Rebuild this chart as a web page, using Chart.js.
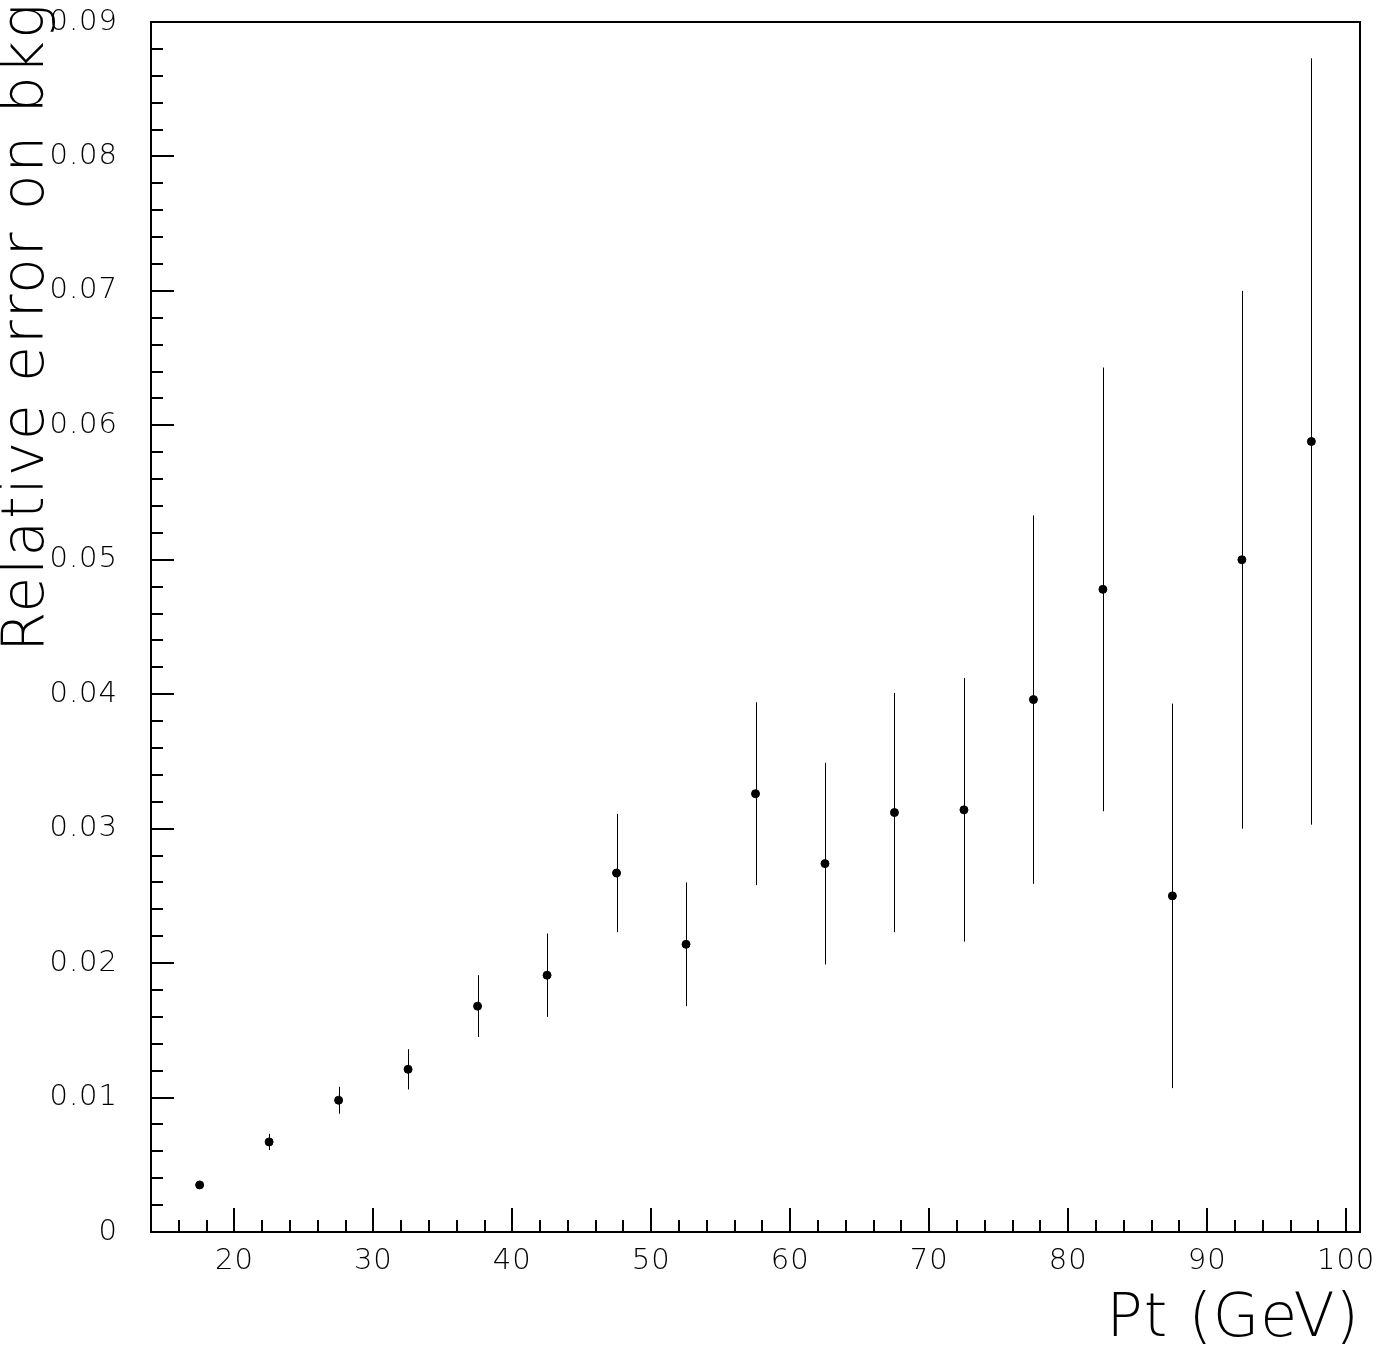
<!DOCTYPE html>
<html>
<head>
<meta charset="utf-8">
<script src="https://cdn.jsdelivr.net/npm/chart.js@4/dist/chart.umd.min.js"></script>
<style>
    html, body { margin: 0; padding: 0; background: #fff; }
    #wrap { width: 1384px; height: 1352px; }
</style>
</head>
<body>
<div id="wrap"><canvas id="graph" width="1384" height="1352"></canvas></div>
<script>
// bin centres (GeV) and the relative error on the background, with its uncertainty
var ptBins  = [17.5, 22.5, 27.5, 32.5, 37.5, 42.5, 47.5, 52.5, 57.5, 62.5, 67.5, 72.5, 77.5, 82.5, 87.5, 92.5, 97.5];
var relErr  = [0.0035, 0.0067, 0.0098, 0.0121, 0.0168, 0.0191, 0.0267, 0.0214, 0.0326, 0.0274, 0.0312, 0.0314, 0.0396, 0.0478, 0.0250, 0.0500, 0.0588];
var errBars = [0.0003, 0.0006, 0.0010, 0.0015, 0.0023, 0.0031, 0.0044, 0.0046, 0.0068, 0.0075, 0.0089, 0.0098, 0.0137, 0.0165, 0.0143, 0.0200, 0.0285];

var xTicks = [20, 30, 40, 50, 60, 70, 80, 90, 100];
var yTicks = [0, 0.01, 0.02, 0.03, 0.04, 0.05, 0.06, 0.07, 0.08, 0.09];

var xTitle = "Pt (GeV)";
var yTitle = "Relative error on bkg";

var FONT = "'DejaVu Sans', 'Liberation Sans', sans-serif";

var points = [];
for (var i = 0; i < ptBins.length; i++) {
    points.push({ x: ptBins[i], y: relErr[i], e: errBars[i] });
}

// vertical error bars, drawn under the markers
var errorBarPlugin = {
    id: "errorBars",
    beforeDraw: function (chart) {
        // the reference font is a bit wider than DejaVu
        chart.ctx.letterSpacing = "1px";
    },
    beforeDatasetsDraw: function (chart) {
        var ctx = chart.ctx, xs = chart.scales.x, ys = chart.scales.y;
        ctx.save();
        ctx.strokeStyle = "#000";
        ctx.lineWidth = 1;
        chart.data.datasets[0].data.forEach(function (p) {
            var px = Math.round(xs.getPixelForValue(p.x)) + 0.5;
            ctx.beginPath();
            ctx.moveTo(px, ys.getPixelForValue(p.y - p.e));
            ctx.lineTo(px, ys.getPixelForValue(p.y + p.e));
            ctx.stroke();
        });
        ctx.restore();
    }
};

// frame, inward ticks (major + minor) and the rotated y title
var framePlugin = {
    id: "frame",
    afterDraw: function (chart) {
        var ctx = chart.ctx, a = chart.chartArea, xs = chart.scales.x, ys = chart.scales.y;
        ctx.save();
        ctx.strokeStyle = "#000";
        ctx.lineWidth = 2;
        ctx.strokeRect(a.left, a.top, a.right - a.left, a.bottom - a.top);

        ctx.beginPath();
        for (var v = 16; v <= 100; v += 2) {
            var px = Math.round(xs.getPixelForValue(v));
            var len = (v % 10 === 0) ? 24 : 12;
            ctx.moveTo(px, a.bottom);
            ctx.lineTo(px, a.bottom - len);
        }
        for (var k = 1; k < 45; k++) {
            var py = Math.round(ys.getPixelForValue(k * 0.002));
            var l = (k % 5 === 0) ? 23 : 12;
            ctx.moveTo(a.left, py);
            ctx.lineTo(a.left + l, py);
        }
        ctx.stroke();

        ctx.translate(28, 2);
        ctx.rotate(-Math.PI / 2);
        ctx.fillStyle = "#000";
        ctx.font = "200 58px " + FONT;
        ctx.letterSpacing = "2px";
        ctx.textAlign = "right";
        ctx.textBaseline = "middle";
        ctx.fillText(yTitle, 0, 0);
        ctx.restore();
    }
};

var chart = new Chart(document.getElementById("graph").getContext("2d"), {
    type: "scatter",
    data: {
        datasets: [{
            label: yTitle,
            data: points,
            backgroundColor: "#000",
            borderColor: "#000",
            pointRadius: 4,
            pointHoverRadius: 4
        }]
    },
    options: {
        responsive: false,
        animation: false,
        layout: { padding: { top: 22, right: 24, left: 0, bottom: 0 } },
        plugins: {
            legend: { display: false },
            tooltip: { enabled: false }
        },
        scales: {
            x: {
                type: "linear",
                min: 14,
                max: 101,
                grid: { display: false, drawTicks: false },
                border: { display: false },
                afterFit: function (s) { s.height = 120; s.paddingLeft = 0; s.paddingRight = 0; },
                afterBuildTicks: function (s) { s.ticks = xTicks.map(function (v) { return { value: v }; }); },
                ticks: {
                    color: "#000",
                    padding: 12,
                    maxRotation: 0,
                    autoSkip: false,
                    font: { family: FONT, size: 29, weight: 200 },
                    callback: function (v) { return String(v); }
                },
                title: {
                    display: true,
                    text: xTitle,
                    align: "end",
                    color: "#000",
                    padding: { top: 0, bottom: 0 },
                    font: { family: FONT, size: 60, weight: 200, lineHeight: 1.05 }
                }
            },
            y: {
                type: "linear",
                min: 0,
                max: 0.09,
                grid: { display: false, drawTicks: false },
                border: { display: false },
                afterFit: function (s) { s.width = 151; s.paddingTop = 0; s.paddingBottom = 0; },
                afterBuildTicks: function (s) { s.ticks = yTicks.map(function (v) { return { value: v }; }); },
                ticks: {
                    color: "#000",
                    padding: 33,
                    autoSkip: false,
                    font: { family: FONT, size: 29, weight: 200 },
                    callback: function (v) { return v === 0 ? "0" : v.toFixed(2); }
                }
            }
        }
    },
    plugins: [errorBarPlugin, framePlugin]
});
</script>
</body>
</html>
